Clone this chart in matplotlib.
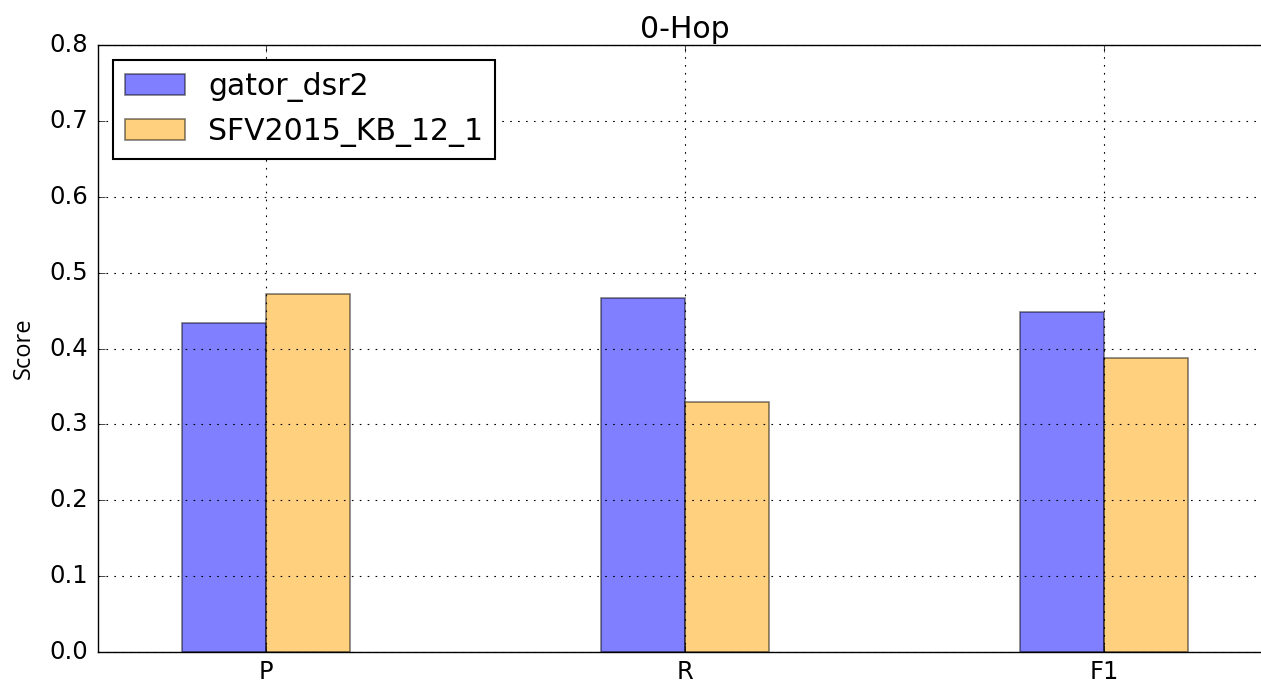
import matplotlib
matplotlib.use("Agg")
import matplotlib.pyplot as plt
import numpy as np

plt.style.use("classic")

categories = ["P", "R", "F1"]
gator_dsr2 = [0.433, 0.466, 0.448]
sfv2015_kb = [0.472, 0.330, 0.388]
series_names = ["gator_dsr2", "SFV2015_KB_12_1"]

width = 0.2
ind = np.arange(len(categories))

fig = plt.figure(figsize=(12.61, 6.84), dpi=100)
fig.patch.set_facecolor("white")
ax = fig.add_axes([98 / 1261, 32 / 684, 1174 / 1261, 607 / 684])

ax.bar(ind, gator_dsr2, width, align="edge", color="b", alpha=0.5,
       edgecolor="k", linewidth=1.2, label=series_names[0])
ax.bar(ind + width, sfv2015_kb, width, align="edge", color="orange", alpha=0.5,
       edgecolor="k", linewidth=1.2, label=series_names[1])

ax.set_xlim(-0.2, 2.6)
ax.set_ylim(0, 0.8)
ax.set_xticks(ind + width)
ax.set_xticklabels(categories, fontsize=17.5)
ax.set_yticks(np.arange(0, 0.81, 0.1))
ax.set_yticklabels([f"{v:.1f}" for v in np.arange(0, 0.81, 0.1)], fontsize=17.5)
ax.tick_params(direction="in", length=5)
ax.tick_params(axis="x", pad=6)
ax.tick_params(axis="y", pad=7)

ax.grid(True, linestyle=(0, (1.2, 4.5)), color="k", linewidth=0.8)
ax.set_axisbelow(False)

ax.set_title("0-Hop", fontsize=21.5, pad=5)
ax.set_ylabel("Score", fontsize=17, family="Open Sans", labelpad=10)

leg = ax.legend(loc="upper left", fontsize=21.5, fancybox=False,
                borderaxespad=0.5, handlelength=2.0)
leg.get_frame().set_linewidth(1.5)

fig.savefig("out.png", dpi=100, facecolor="white")
